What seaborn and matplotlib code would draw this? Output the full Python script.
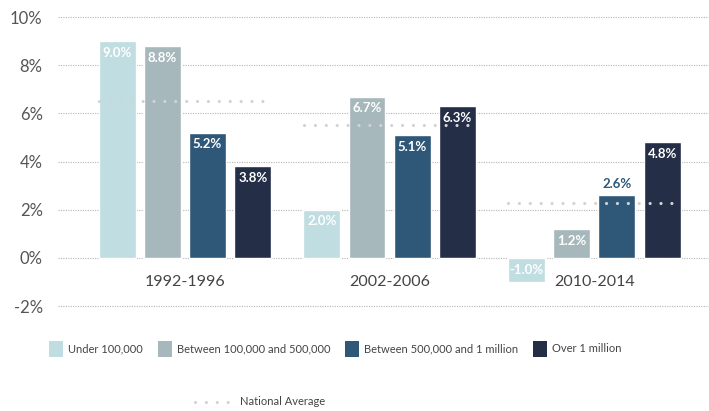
import matplotlib
matplotlib.use("Agg")
import matplotlib.pyplot as plt
import seaborn as sns
import pandas as pd
from matplotlib.lines import Line2D
from matplotlib.patches import Patch

periods = ["1992-1996", "2002-2006", "2010-2014"]
series = ["Under 100,000", "Between 100,000 and 500,000",
          "Between 500,000 and 1 million", "Over 1 million"]
under_100k = [9.0, 2.0, -1.0]
between_100k_500k = [8.8, 6.7, 1.2]
between_500k_1m = [5.2, 5.1, 2.6]
over_1m = [3.8, 6.3, 4.8]
national_avg = [6.5, 5.5, 2.3]
yticks = [-2, 0, 2, 4, 6, 8, 10]

colors = ["#c0dde1", "#a6b8bb", "#2f5878", "#252e47"]
values = [under_100k, between_100k_500k, between_500k_1m, over_1m]

rows = []
for s, vals in zip(series, values):
    for p, v in zip(periods, vals):
        rows.append({"period": p, "size": s, "growth": v})
df = pd.DataFrame(rows)

sns.set_theme(style="white")
plt.rcParams["font.family"] = ["Lato", "DejaVu Sans"]

fig = plt.figure(figsize=(7.09, 4.11), dpi=100)
ax = fig.add_axes([0.0818, 0.2375, 0.9182, 0.7385])

sns.barplot(data=df, x="period", y="growth", hue="size", order=periods,
            hue_order=series, palette=colors, width=0.884, gap=0.183,
            saturation=1, legend=False, ax=ax, zorder=2)

ax.set_xlim(-0.62, 2.56)
ax.set_ylim(-2.3, 10.3)
ax.set_yticks(yticks)
ax.set_yticklabels([f"{t}%" for t in yticks], fontsize=12, color="#555555")
ax.tick_params(axis="y", length=0, pad=11)
ax.set_xticks([])
ax.set_xlabel("")
ax.set_ylabel("")
for sp in ax.spines.values():
    sp.set_visible(False)
for t in yticks:
    ax.axhline(t, color="#b5b5b5", lw=0.8, ls=(0, (1, 1.2)), zorder=1)

# category labels inside plot
for i, p in enumerate(periods):
    ax.text(i, -1.0, p, ha="center", va="center", fontsize=11.5, color="#444444")

# value labels
outside = {(2, 2)}
for si, cont in enumerate(ax.containers):
    for pi, bar in enumerate(cont):
        v = values[si][pi]
        xc = bar.get_x() + bar.get_width() / 2
        if v < 0:
            ax.annotate(f"{v:.1f}%", (xc, v / 2), ha="center", va="center",
                        fontsize=9.5, fontweight="bold", color="white", zorder=4)
        elif (si, pi) in outside:
            ax.annotate(f"{v:.1f}%", (xc, v), xytext=(0, 4), textcoords="offset points",
                        ha="center", va="bottom", fontsize=9.5, fontweight="bold",
                        color=colors[si], zorder=4)
        else:
            ax.annotate(f"{v:.1f}%", (xc, v), xytext=(0, -4), textcoords="offset points",
                        ha="center", va="top", fontsize=9.5, fontweight="bold",
                        color="white", zorder=4)

# national average dotted lines
for i, avg in enumerate(national_avg):
    ax.hlines(avg, i - 0.42, i + 0.42, colors="#d0d4d8", lw=2.3,
              linestyles=(0, (0.01, 3.4)), capstyle="round", zorder=3)

handles = [Patch(facecolor=c, edgecolor="none") for c in colors]
fig.legend(handles, series, loc="center left", bbox_to_anchor=(0.055, 0.151),
           ncol=4, frameon=False, prop={"size": 8},
           handlelength=1.25, handleheight=1.9, columnspacing=1.3,
           handletextpad=0.5, labelcolor="#444444")

avg_handle = Line2D([0], [0], color="#d0d4d8", lw=2.3, ls=(0, (0.01, 3.4)),
                    dash_capstyle="round")
fig.legend([avg_handle], ["National Average"], loc="center",
           bbox_to_anchor=(0.367, 0.022), frameon=False, prop={"size": 8},
           handlelength=3.2, handletextpad=0.8, labelcolor="#444444")

fig.savefig("out.png", dpi=100)
